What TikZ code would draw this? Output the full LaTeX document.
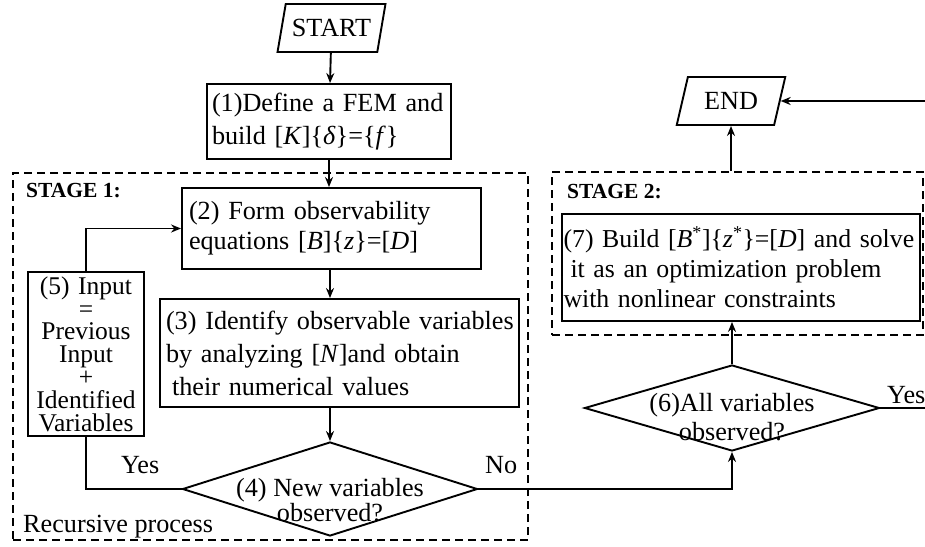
\documentclass[tikz,border=0pt]{standalone}
\usepackage{fontspec}
\setmainfont{Liberation Serif}
\usetikzlibrary{shapes.geometric,arrows.meta}

\begin{document}
\begin{tikzpicture}[x=1pt,y=-1pt,
  every node/.style={font=\fontsize{26.2}{33}\selectfont, inner sep=0pt},
  line/.style={line width=1.9pt},
  arr/.style={line, -{Stealth[length=10pt,width=8pt]}},
  proc/.style={draw, line width=1.9pt, rectangle, inner xsep=7pt, align=left},
  io/.style={draw, line width=1.9pt, trapezium, trapezium left angle=68,
    trapezium right angle=112, trapezium stretches=true,
    minimum width=109pt, minimum height=48pt},
  decision/.style={draw, line width=1.9pt, diamond, inner sep=0pt},
  stagebox/.style={draw, line width=1.7pt, dash pattern=on 8pt off 5pt, rectangle},
  stagetitle/.style={font=\fontsize{21.5}{24}\selectfont\bfseries, anchor=base west},
  tag/.style={anchor=base west}
]
\useasboundingbox (0,0) rectangle (925,546);
\clip (0,0) rectangle (925,546);
\fill[white] (0,0) rectangle (925,546);

% dashed stage frames
\node[stagebox, minimum width=515pt, minimum height=367pt] (s1) at (270.5,356.5) {};
\node[stagebox, minimum width=371pt, minimum height=163pt] (s2) at (737.5,253.5) {};
\node[stagetitle] (s1t) at (26,197) {STAGE 1:};
\node[stagetitle] (s2t) at (567,198) {STAGE 2:};
\node[tag] (rec) at (23,532) {Recursive process};

% terminals
\node[io] (start) at (331.5,28) {START};
\node[io] (end) at (731,101) {END};

% process boxes (each line kept whole with \mbox)
\node[proc, minimum width=244pt, minimum height=75pt, text width=234pt, inner xsep=5pt] (b1) at (329,121.5)
  {\mbox{(1)Define a FEM and}\\\mbox{build [\textit{K}]\{\textit{δ}\}=\{\textit{f}\}}};
\node[proc, minimum width=299pt, minimum height=81pt, text width=285pt,
  font=\fontsize{26.2}{30}\selectfont] (b2) at (331.5,228.5)
  {\mbox{(2) Form observability}\\\mbox{equations [\textit{B}]\{\textit{z}\}=[\textit{D}]}};
\node[proc, minimum width=359pt, minimum height=108pt, text width=347pt, inner xsep=6pt] (b3) at (339.5,353)
  {\mbox{(3) Identify observable variables}\\\mbox{by analyzing [\textit{N}]and obtain}\\\mbox{\hspace{6pt}their numerical values}};
\node[proc, minimum width=116pt, minimum height=164pt, text width=110pt, align=center,
  inner xsep=3pt, font=\fontsize{25.5}{22.8}\selectfont] (b5) at (86,354)
  {(5) Input\\=\\Previous\\Input\\+\\Identified\\Variables};
\node[proc, minimum width=358pt, minimum height=107pt, text width=355pt, inner xsep=1.5pt,
  font=\fontsize{25.8}{30}\selectfont] (b7) at (741,267.5)
  {\mbox{(7) Build [\textit{B}\textsuperscript{*}]\{\textit{z}\textsuperscript{*}\}=[\textit{D}] and solve}\\\mbox{\hspace{7pt}it as an optimization problem}\\\mbox{with nonlinear constraints}};

% decisions
\node[decision, minimum width=295pt, minimum height=94pt] (d4) at (330,489) {};
\node[align=center, font=\fontsize{26.2}{25}\selectfont] (d4t) at (330,500) {(4) New variables\\observed?};
\node[decision, minimum width=295pt, minimum height=86pt] (d6) at (732,408) {};
\node[align=center, font=\fontsize{26.2}{29}\selectfont] (d6t) at (732,417) {(6)All variables\\observed?};

% connector labels
\node[tag] (yes4) at (121,473) {Yes};
\node[tag] (no4) at (485,473) {No};
\node[tag] (yes6) at (887,403) {Yes};

% connectors
\coordinate (edge) at (940,0);
\draw[arr] (start) -- (b1);
\draw[arr] (b1.south) -- (b1.south |- b2.north);
\draw[arr] (b2.south -| d4.north) -- (b3.north -| d4.north);
\draw[arr] (b3.south -| d4.north) -- (d4.north);
\draw[line] (d4.west) -| (b5.south);
\draw[arr] (b5.north) |- (b2.west);
\draw[arr] (d4.east) -| (d6.south);
\draw[arr] (d6.north) -- (d6.north |- b7.south);
\draw[arr] (end.south |- s2.north) -- (end.south);
\draw[arr] (d6.east) -- (d6.east -| edge) |- (end.east);
\end{tikzpicture}
\end{document}
